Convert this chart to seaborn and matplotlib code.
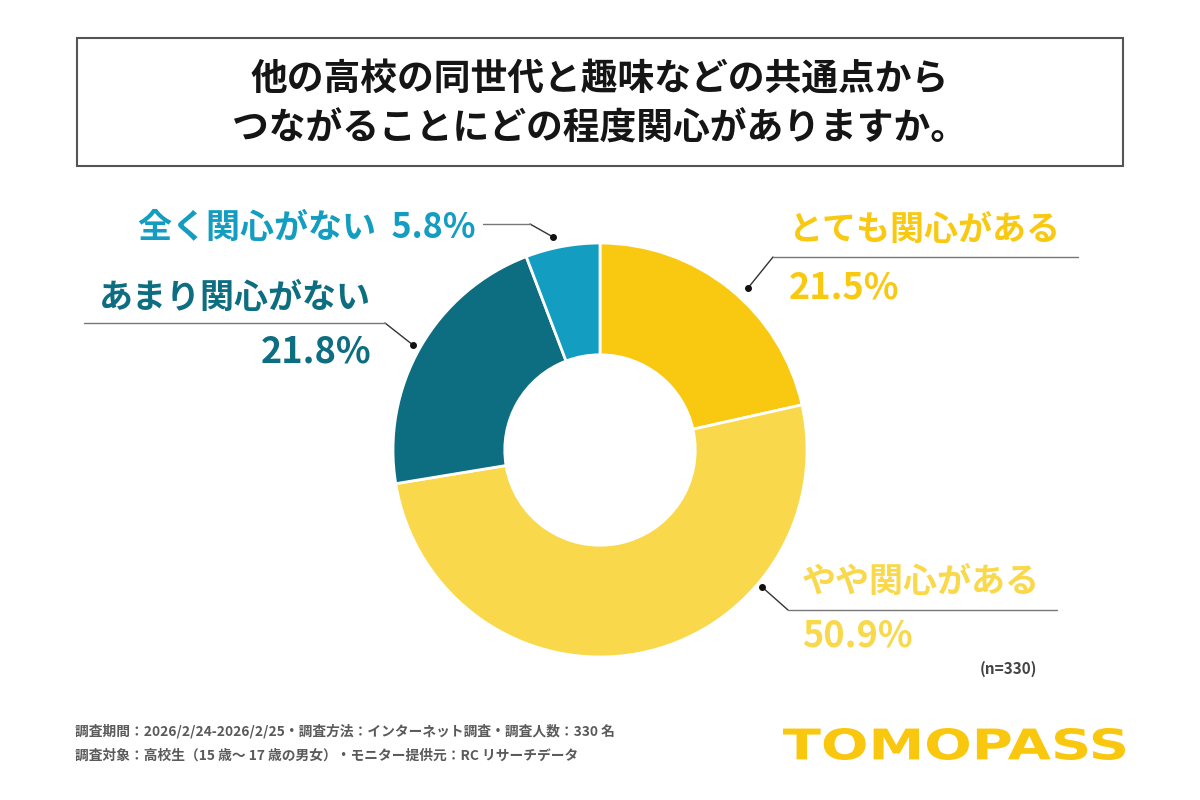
import matplotlib
matplotlib.use("Agg")
import matplotlib.pyplot as plt
import seaborn as sns
from matplotlib.patches import Rectangle, PathPatch
from matplotlib.textpath import TextPath
from matplotlib.font_manager import FontProperties
from matplotlib.transforms import Affine2D

# Data
categories = ["とても関心がある", "やや関心がある", "あまり関心がない", "全く関心がない"]
shares = [21.5, 50.9, 21.8, 5.8]
colors = ["#F9C912", "#F9D94B", "#0D6D81", "#139DC1"]

title_lines = "他の高校の同世代と趣味などの共通点から\nつながることにどの程度関心がありますか。"
footer_lines = [
    "調査期間：2026/2/24-2026/2/25・調査方法：インターネット調査・調査人数：330 名",
    "調査対象：高校生（15 歳～ 17 歳の男女）・モニター提供元：RC リサーチデータ",
]
sample_note = "(n=330)"
logo = "TOMOPASS"

sns.set_theme(style="white")
plt.rcParams["font.family"] = ["Noto Sans CJK JP", "DejaVu Sans"]

fig = plt.figure(figsize=(12, 8), dpi=100)
ax = fig.add_axes([0, 0, 1, 1])

# Donut (y axis is inverted below, so counterclock=True draws clockwise on screen)
cx, cy, r = 600, 450, 207
ax.pie(shares, colors=colors, startangle=-90, counterclock=True, center=(cx, cy),
       radius=r, frame=True, wedgeprops=dict(width=r * 0.54, edgecolor="white", linewidth=2))
ax.set_xlim(0, 1200)
ax.set_ylim(800, 0)
ax.set_aspect("auto")
ax.axis("off")

# Title box
ax.add_patch(Rectangle((77, 38), 1046, 128, fill=False, edgecolor="#555555", linewidth=1.5))
ax.text(600, 104, title_lines, ha="center", va="center", fontsize=26.5, fontweight="bold",
        color="#151515", linespacing=1.45)

line_kw = dict(color="#333333", linewidth=1)
hline_kw = dict(color="#777777", linewidth=1)
lab_kw = dict(fontsize=24.5, fontweight="bold")
pct_kw = dict(fontsize=26, fontweight="bold")

# とても関心がある
ax.plot([748, 773], [288, 257], **line_kw)
ax.plot([773, 1078], [257, 257], **hline_kw)
ax.plot(748, 288, "o", color="#111111", markersize=4)
ax.text(789, 229, categories[0], color=colors[0], ha="left", va="center", **lab_kw)
ax.text(789, 288, f"{shares[0]}%", color=colors[0], ha="left", va="center", **pct_kw)

# やや関心がある
ax.plot([762, 788], [587, 610], **line_kw)
ax.plot([788, 1057], [610, 610], **hline_kw)
ax.plot(762, 587, "o", color="#111111", markersize=4)
ax.text(802, 581, categories[1], color=colors[1], ha="left", va="center", **lab_kw)
ax.text(802, 636, f"{shares[1]}%", color=colors[1], ha="left", va="center", **pct_kw)

# あまり関心がない
ax.plot([413, 385], [345, 323], **line_kw)
ax.plot([84, 385], [323, 323], **hline_kw)
ax.plot(413, 345, "o", color="#111111", markersize=4)
ax.text(371, 297, categories[2], color=colors[2], ha="right", va="center", **lab_kw)
ax.text(371, 352, f"{shares[2]}%", color=colors[2], ha="right", va="center", **pct_kw)

# 全く関心がない
ax.plot([553, 530], [237, 224], **line_kw)
ax.plot([483, 530], [224, 224], **hline_kw)
ax.plot(553, 237, "o", color="#111111", markersize=4)
ax.text(476, 227, f"{categories[3]}  {shares[3]}%", color=colors[3], ha="right", va="center", **lab_kw)

ax.text(1037, 669, sample_note, ha="right", va="center", fontsize=11, color="#444444",
        fontweight="bold")

# Footer
for i, line in enumerate(footer_lines):
    ax.text(75, 731 + i * 25, line, ha="left", va="center", fontsize=9.9, color="#5a5a5a",
            fontweight="bold")

# Logo: wide bold lettering stretched into its box
tp = TextPath((0, 0), logo, size=1, prop=FontProperties(family="DejaVu Sans", weight="bold"))
bb = tp.get_extents()
x0, y0, x1, y1 = 783, 728, 1125, 760
sx = (x1 - x0) / bb.width
sy = (y1 - y0) / bb.height
trans = Affine2D().translate(-bb.x0, -bb.y0).scale(sx, -sy).translate(x0, y1)
ax.add_patch(PathPatch(trans.transform_path(tp), facecolor="#F9C80E", edgecolor="none"))

fig.savefig("out.png", dpi=100)
